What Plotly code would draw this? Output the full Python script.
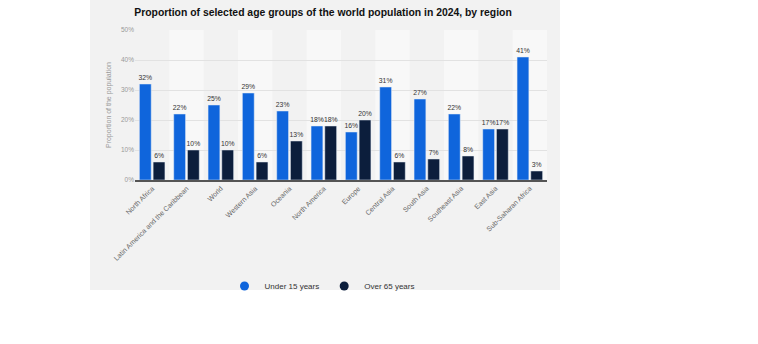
import plotly.graph_objects as go

regions = ["North Africa", "Latin America and the Caribbean", "World", "Western Asia",
           "Oceania", "North America", "Europe", "Central Asia", "South Asia",
           "Southeast Asia", "East Asia", "Sub-Saharan Africa"]
under15 = [32, 22, 25, 29, 23, 18, 16, 31, 27, 22, 17, 41]
over65 = [6, 10, 10, 6, 13, 18, 20, 6, 7, 8, 17, 3]
yticks = [0, 10, 20, 30, 40, 50]
series_names = ["Under 15 years", "Over 65 years"]

BLUE = "#0f65dc"
NAVY = "#0c1e3c"
FONT = "Liberation Sans, Arial, sans-serif"

fig = go.Figure()
for name, vals, col in [(series_names[0], under15, BLUE), (series_names[1], over65, NAVY)]:
    fig.add_trace(go.Bar(x=regions, y=vals, name=name, marker_color=col, showlegend=False,
                         text=[f"{v}%" for v in vals], textposition="outside",
                         constraintext="none",
                         textfont=dict(size=6.8, color="#333"), cliponaxis=False))
for name, col in [(series_names[0], BLUE), (series_names[1], NAVY)]:
    fig.add_trace(go.Scatter(x=[None], y=[None], mode="markers", name=name,
                             marker=dict(symbol="circle", size=9, color=col)))

L, R, T, B = 135, 547, 30, 180
W, H = 758, 344
pw, ph = R - L, B - T

def px_x(p):
    return (p - L) / pw

def px_y(p):
    return (B - p) / ph

shapes = [dict(type="rect", xref="paper", yref="paper", x0=px_x(90), x1=px_x(560),
               y0=px_y(290), y1=px_y(0), fillcolor="#f2f2f2", line_width=0, layer="below")]
for i in range(len(regions)):
    if i % 2 == 1:
        shapes.append(dict(type="rect", xref="x", yref="paper", x0=i - 0.5, x1=i + 0.5,
                           y0=0, y1=1, fillcolor="#f8f8f8", line_width=0, layer="below"))

fig.update_layout(
    width=W, height=H,
    margin=dict(l=L, r=W - R, t=T, b=H - B),
    paper_bgcolor="white", plot_bgcolor="rgba(0,0,0,0)",
    barmode="group", bargap=0.2, bargroupgap=0.14,
    font=dict(family=FONT, color="#666"),
    title=dict(text="<b>Proportion of selected age groups of the world population in 2024, by region</b>",
               x=px_x(323), xref="paper", xanchor="center", y=1 - 12 / H, yanchor="middle",
               font=dict(size=10.4, color="#111")),
    shapes=shapes,
    showlegend=True,
    legend=dict(orientation="h", x=px_x(322), xanchor="center", y=px_y(286), yanchor="middle",
                font=dict(size=8, color="#333"), bgcolor="rgba(0,0,0,0)",
                itemwidth=30, tracegroupgap=0),
    xaxis=dict(tickangle=-45, tickfont=dict(size=7, color="#666"), showgrid=False,
               showline=True, linecolor="#555", linewidth=1.5, ticks=""),
    yaxis=dict(range=[0, 50], tickvals=yticks, ticktext=[f"{v}%" for v in yticks],
               tickfont=dict(size=6.5, color="#999"), gridcolor="#e2e2e2", zeroline=False,
               title=dict(text="Proportion of the population", font=dict(size=7, color="#999"),
                          standoff=8)),
)

fig.write_html("out.html")
